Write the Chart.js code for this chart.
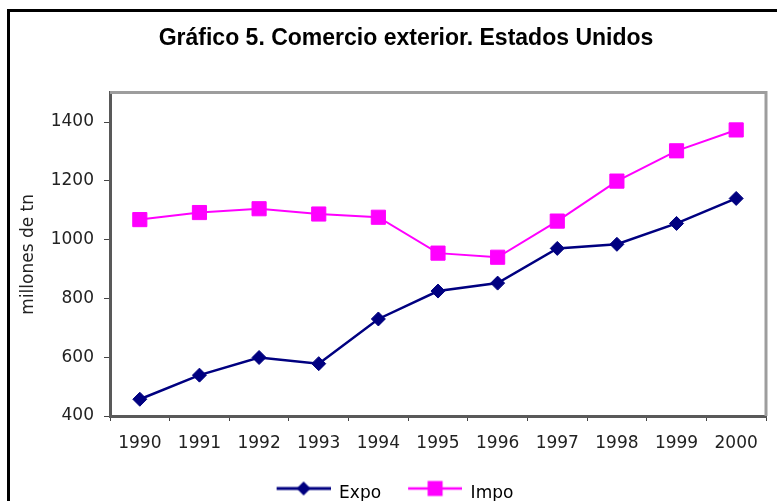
<!DOCTYPE html>
<html>
<head>
<meta charset="utf-8">
<script src="https://cdn.jsdelivr.net/npm/chart.js@4"></script>
<style>
  html, body { margin: 0; padding: 0; background: #fff; overflow: hidden; }
  #frame {
    position: absolute; left: 7px; top: 9px;
    width: 820px; height: 540px;
    border: 3px solid #000;
  }
  #wrap { position: absolute; left: 0; top: 0; width: 777px; height: 501px; }
</style>
</head>
<body>
<div id="frame"></div>
<div id="wrap"><canvas id="tradeChart" width="777" height="501"></canvas></div>
<script>
// Years on the x axis
const years = ["1990", "1991", "1992", "1993", "1994", "1995", "1996", "1997", "1998", "1999", "2000"];
// Exports and imports, millones de tn
const expo = [457, 539, 599, 578, 730, 825, 852, 970, 984, 1055, 1140];
const impo = [1068, 1092, 1105, 1087, 1076, 954, 940, 1063, 1199, 1302, 1373];
// y axis range / tick step
const yMin = 400;
const yMax = 1500;
const yStep = 200;
const yLastTick = 1400;

const NAVY = "#000080";
const MAGENTA = "#FF00FF";

// little legend symbols: a line with the marker in the middle
function legendSymbol(color, lineW, shape) {
  const c = document.createElement("canvas");
  c.width = 76;
  c.height = 34;
  const g = c.getContext("2d");
  const cy = 12;
  g.strokeStyle = color;
  g.lineWidth = lineW;
  g.beginPath();
  g.moveTo(22, cy);
  g.lineTo(76, cy);
  g.stroke();
  g.fillStyle = color;
  const cx = 49;
  if (shape === "diamond") {
    g.beginPath();
    g.moveTo(cx, cy - 7);
    g.lineTo(cx + 7, cy);
    g.lineTo(cx, cy + 7);
    g.lineTo(cx - 7, cy);
    g.closePath();
    g.fill();
  } else {
    g.fillRect(cx - 7.5, cy - 7.5, 15, 15);
  }
  return c;
}

// gray border on top and right of the plot area
const plotFrame = {
  id: "plotFrame",
  afterLayout(chart) {
    // title sits a bit right of the canvas centre in the original
    if (chart.titleBlock) chart.titleBlock.left += 44;
  },
  afterDraw(chart) {
    const a = chart.chartArea;
    const ctx = chart.ctx;
    ctx.save();
    ctx.strokeStyle = "#9d9d9d";
    ctx.lineWidth = 3;
    ctx.beginPath();
    ctx.moveTo(a.left, a.top);
    ctx.lineTo(a.right, a.top);
    ctx.lineTo(a.right, a.bottom);
    ctx.stroke();
    ctx.restore();
  },
};

Chart.defaults.font.family = "'DejaVu Sans', sans-serif";
Chart.defaults.color = "#222";

const ctx = document.getElementById("tradeChart").getContext("2d");
new Chart(ctx, {
  type: "line",
  data: {
    labels: years,
    datasets: [
      {
        label: "Expo",
        data: expo,
        borderColor: NAVY,
        backgroundColor: NAVY,
        borderWidth: 2.5,
        pointStyle: "rectRot",
        pointRadius: 7,
        pointBorderWidth: 1,
        tension: 0,
      },
      {
        label: "Impo",
        data: impo,
        borderColor: MAGENTA,
        backgroundColor: MAGENTA,
        borderWidth: 2,
        pointStyle: "rect",
        pointRadius: 10,
        pointBorderWidth: 1,
        tension: 0,
      },
    ],
  },
  options: {
    responsive: false,
    animation: false,
    layout: { padding: { left: 0, right: 9, top: 0, bottom: -11 } },
    plugins: {
      title: {
        display: true,
        text: "Gráfico 5. Comercio exterior. Estados Unidos",
        color: "#000",
        font: { family: "'Liberation Sans', Arial, sans-serif", size: 23, weight: "bold" },
        padding: { top: 25, bottom: 40 },
      },
      legend: {
        position: "bottom",
        labels: {
          usePointStyle: true,
          pointStyleWidth: 76,
          padding: 5,
          color: "#000",
          font: { size: 17 },
          generateLabels(chart) {
            return chart.data.datasets.map((ds, i) => ({
              text: ds.label,
              datasetIndex: i,
              fontColor: "#000",
              pointStyle: i === 0 ? legendSymbol(NAVY, 3, "diamond") : legendSymbol(MAGENTA, 2.5, "square"),
              lineWidth: 0,
              hidden: false,
            }));
          },
        },
      },
      tooltip: { enabled: false },
    },
    scales: {
      x: {
        offset: true,
        grid: { drawOnChartArea: false, offset: true, tickLength: 5, color: "#444" },
        border: { color: "#595959", width: 3 },
        ticks: { padding: 12, font: { size: 17 }, color: "#222", maxRotation: 0 },
        afterFit(scale) { scale.height = 64; },
      },
      y: {
        min: yMin,
        max: yMax,
        grid: { drawOnChartArea: false, tickLength: 6, color: "#444" },
        border: { color: "#595959", width: 3 },
        ticks: {
          stepSize: yStep,
          padding: 10,
          font: { size: 17 },
          color: "#222",
          callback: (v) => String(v),
        },
        afterBuildTicks(scale) {
          scale.ticks = scale.ticks.filter((t) => t.value <= yLastTick);
        },
        title: {
          display: true,
          text: "millones de tn",
          color: "#222",
          font: { size: 17 },
          padding: { top: 18, bottom: 0 },
        },
        afterFit(scale) { scale.width = 110; },
      },
    },
  },
  plugins: [plotFrame],
});
</script>
</body>
</html>
